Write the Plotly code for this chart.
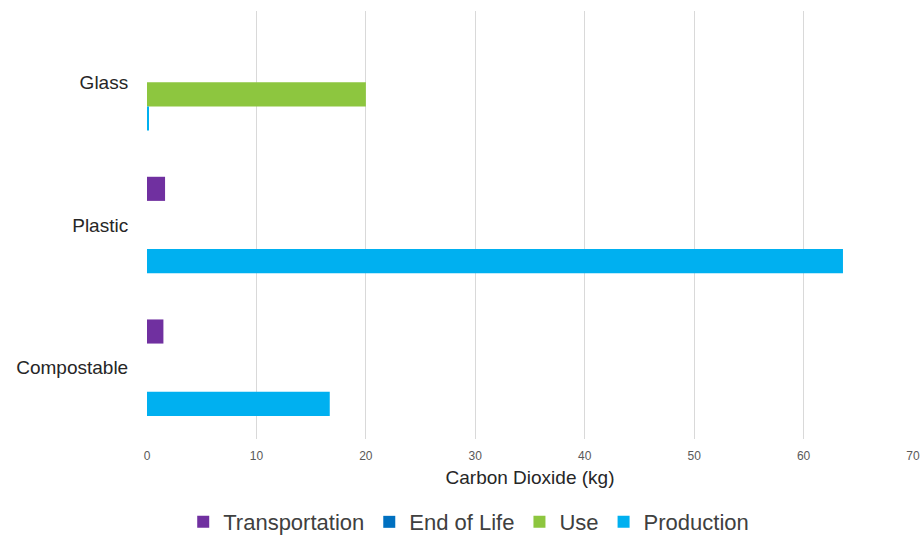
import plotly.graph_objects as go

categories = ["Glass", "Plastic", "Compostable"]
series_names = ["Transportation", "End of Life", "Use", "Production"]
transportation = [0, 1.65, 1.5]
end_of_life = [0, 0, 0]
use = [20.0, 0, 0]
production = [0.15, 63.6, 16.7]
colors = ["#7030A0", "#0070C0", "#8DC63F", "#00B0F0"]
x_ticks = [0, 10, 20, 30, 40, 50, 60, 70]

values = [transportation, end_of_life, use, production]

fig = go.Figure()
for name, vals, col in zip(series_names, values, colors):
    fig.add_trace(go.Bar(
        y=categories, x=vals, name=name, orientation="h",
        marker=dict(color=col, line=dict(width=0)),
    ))

fig.update_layout(
    width=924, height=542,
    margin=dict(l=147, r=11, t=11, b=103, autoexpand=False),
    paper_bgcolor="white", plot_bgcolor="white",
    barmode="group", bargap=0.324, bargroupgap=0,
    font=dict(family="Liberation Sans, Arial, sans-serif", color="#262626"),
    xaxis=dict(
        range=[0, 70], tickvals=x_ticks, showgrid=True, gridcolor="#D9D9D9",
        gridwidth=1, zeroline=False, showline=False, automargin=False,
        tickfont=dict(size=12, color="#595959"),
        ticks="outside", ticklen=6, tickcolor="rgba(0,0,0,0)",
        title=dict(text="Carbon Dioxide (kg)", font=dict(size=19, color="#262626"), standoff=8),
    ),
    yaxis=dict(
        categoryorder="array", categoryarray=categories, autorange="reversed",
        showgrid=False, zeroline=False, showline=False, automargin=False,
        tickfont=dict(size=19, color="#262626"),
        ticks="outside", ticklen=14, tickcolor="rgba(0,0,0,0)",
    ),
    legend=dict(
        orientation="h", x=0.42, xanchor="center", y=-0.194, yanchor="middle",
        font=dict(size=22, color="#404040"),
    ),
)

fig.write_html("out.html")
